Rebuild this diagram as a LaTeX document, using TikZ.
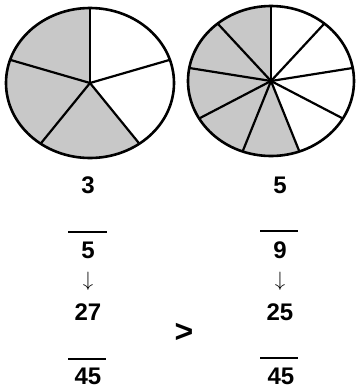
\documentclass[tikz,border=0pt]{standalone}
\usepackage{fontspec}
\setmainfont{Liberation Sans}
\usepackage{tikz}
\usetikzlibrary{positioning}
\definecolor{pieshade}{RGB}{200, 200, 200}

\begin{document}
\begin{tikzpicture}[
    x=1pt, y=1pt,
    num/.style={inner sep=0pt, font=\fontsize{24}{24}\selectfont\bfseries},
    arrowsym/.style={inner sep=0pt, font=\fontsize{22}{22}\selectfont},
    rim/.style={draw=black, line width=2.6pt},
    spoke/.style={draw=black, line width=2.2pt},
    bar/.style={draw=black, line width=2.6pt}
]
\useasboundingbox (0,0) rectangle (356,-389);

% left pie: 3 of 5 parts shaded
\begin{scope}[shift={(90,-83)}]
  \fill[pieshade] (0,0) -- (90:84 and 75) arc[start angle=90, end angle=306, x radius=84, y radius=75] -- cycle;
  \foreach \a in {90,18,-54,-126,162}
    \draw[spoke] (0,0) -- (\a:84 and 75);
  \draw[rim] (0,0) ellipse[x radius=84, y radius=75];
\end{scope}

% right pie: 5 of 9 parts shaded
\begin{scope}[shift={(271,-81)}]
  \fill[pieshade] (0,0) -- (90:83 and 75) arc[start angle=90, end angle=290, x radius=83, y radius=75] -- cycle;
  \foreach \a in {90,50,...,-270}
    \draw[spoke] (0,0) -- (\a:83 and 75);
  \draw[rim] (0,0) ellipse[x radius=83, y radius=75];
\end{scope}

\node[num] (numA) at (88,-185) {3};
\node[num] (numB) at (280,-185) {5};

\draw[bar] (68,-232) -- (107,-232);
\draw[bar] (260,-231) -- (298,-231);

\node[num] (denA) at (88,-250) {5};
\node[num] (denB) at (280,-250) {9};

\node[arrowsym] (arrA) at (88,-281) {$\downarrow$};
\node[arrowsym] (arrB) at (280,-281) {$\downarrow$};

\node[num] (newnumA) at (88,-312) {27};
\node[num] (newnumB) at (280,-312) {25};

\node[num, font=\fontsize{32}{32}\selectfont\bfseries] (gt) at (184,-333) {>};

\draw[bar] (68,-359) -- (106,-359);
\draw[bar] (260,-358) -- (298,-358);

\node[num] (newdenA) at (88,-376) {45};
\node[num] (newdenB) at (281,-376) {45};

\end{tikzpicture}
\end{document}
